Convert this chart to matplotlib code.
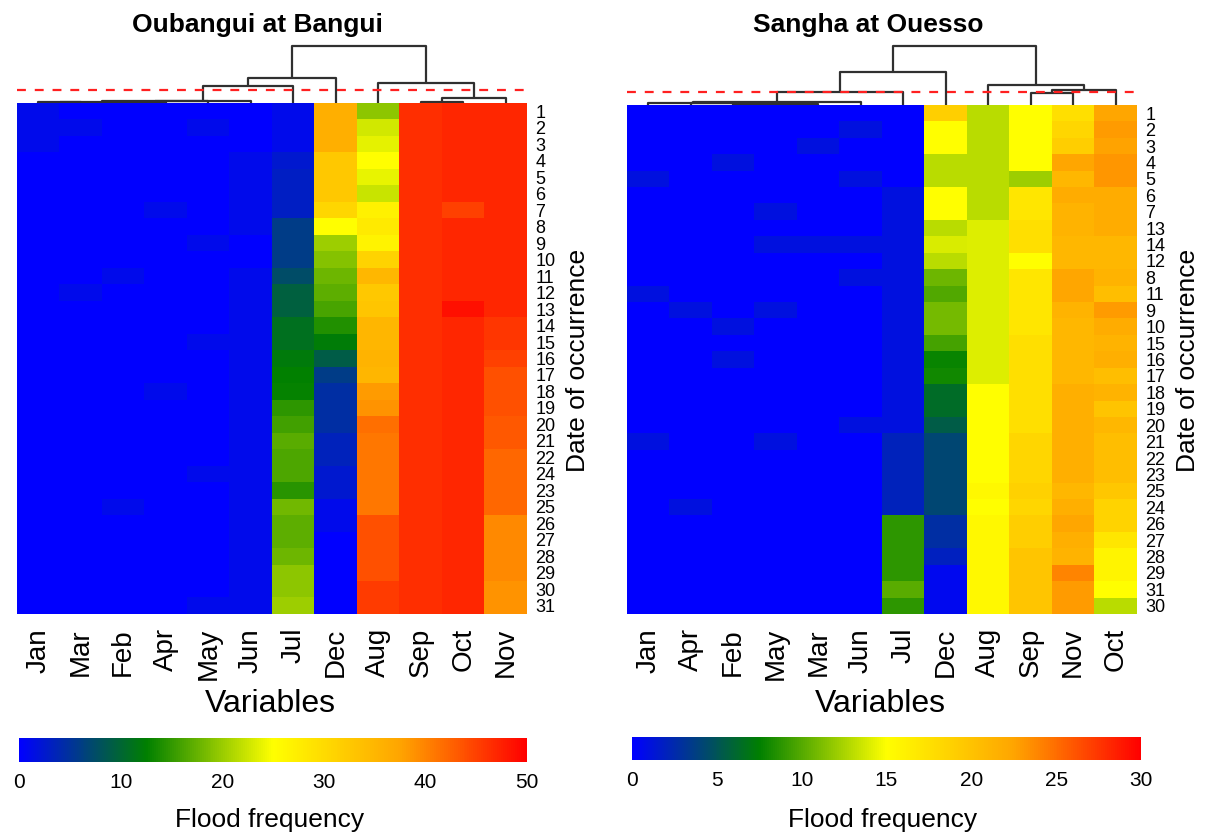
"""Flood frequency heatmaps with column dendrograms (Oubangui / Sangha)"""

import matplotlib
matplotlib.use("Agg")
import matplotlib.pyplot as plt
import numpy as np
from matplotlib.colors import LinearSegmentedColormap

plt.rcParams['font.family'] = ['Liberation Sans', 'DejaVu Sans']

# ---------------- data : Oubangui at Bangui ----------------
left_cols = ["Jan", "Mar", "Feb", "Apr", "May", "Jun", "Jul", "Dec", "Aug", "Sep", "Oct", "Nov"]
left_rows = [str(i) for i in range(1, 23)] + ["24", "23"] + [str(i) for i in range(25, 32)]

left_jan = [1, 1, 1] + [0] * 28
left_mar = [0, 1, 0, 0, 0, 0, 0, 0, 0, 0, 0, 1, 0, 0, 0, 0, 0, 0, 0, 0, 0, 0, 0, 0, 0, 0, 0, 0, 0, 0, 0]
left_feb = [0, 0, 0, 0, 0, 0, 0, 0, 0, 0, 1, 0, 0, 0, 0, 0, 0, 0, 0, 0, 0, 0, 0, 0, 1, 0, 0, 0, 0, 0, 0]
left_apr = [0, 0, 0, 0, 0, 0, 1, 0, 0, 0, 0, 0, 0, 0, 0, 0, 0, 1, 0, 0, 0, 0, 0, 0, 0, 0, 0, 0, 0, 0, 0]
left_may = [0, 1, 0, 0, 0, 0, 0, 0, 1, 0, 0, 0, 0, 0, 1, 0, 0, 0, 0, 0, 0, 0, 1, 0, 0, 0, 0, 0, 0, 0, 1]
left_jun = [0, 0, 0, 1, 1, 1, 1, 1, 0, 0, 1, 1, 1, 1, 1, 1, 1, 1, 1, 1, 1, 1, 1, 1, 1, 1, 1, 1, 1, 1, 1]
left_jul = [1, 1, 1, 2.5, 3, 3, 3, 6, 6, 6, 7.5, 9.5, 9.5, 11, 11, 12, 12.5, 12.8, 14.8, 15.8, 16.8,
            16.4, 16.4, 14.6, 18, 17, 17, 17.8, 19.4, 19.4, 20.3]
left_dec = [36, 36, 36, 32.5, 32.5, 32.5, 30.5, 25, 20.2, 19, 17.8, 17, 16.1, 14.1, 12.3, 9, 6, 4.5,
            4.5, 4.5, 3.5, 3.5, 2.5, 2.5, 1, 1, 0, 0, 0, 0, 0]
left_aug = [19.5, 22.8, 23.8, 25, 23.9, 22.4, 26.8, 27.9, 26.7, 31, 34.9, 32.6, 33, 35, 35, 35.5, 35,
            38.2, 38.8, 41.5, 40.9, 40.9, 40.9, 40.9, 40.9, 43.9, 43.9, 43.9, 43.9, 45.5, 45.5]
left_sep = [46.3] * 31
left_oct = [47, 47, 47, 47, 47, 47, 45.1, 47, 47, 47, 47, 47, 48.8, 47, 47, 47, 47, 47, 47, 47, 47,
            47, 47, 47, 47, 47, 47, 47, 47, 47, 47]
left_nov = [47] * 13 + [45.8, 45.8, 45, 43.9, 43.9, 43.9, 43.2, 43.2, 42, 42, 42, 42,
                        39.5, 39.5, 39.5, 39.5, 38.8, 38.8]

# column dendrogram (left child, right child, merge height)
left_tree = (((((("Jan", "Mar", 0.8), ("Feb", "Apr", 0.6), 1.2), "May", 1.6), "Jun", 2.0), "Jul", 17), "Dec", 25)
left_tree = (left_tree, ("Aug", (("Sep", "Oct", 1.0), "Nov", 5), 20), 57)
left_cut = 13

# ---------------- data : Sangha at Ouesso ----------------
right_cols = ["Jan", "Apr", "Feb", "May", "Mar", "Jun", "Jul", "Dec", "Aug", "Sep", "Nov", "Oct"]
right_rows = ["1", "2", "3", "4", "5", "6", "7", "13", "14", "12", "8", "11", "9", "10", "15", "16",
              "17", "18", "19", "20", "21", "22", "23", "25", "24", "26", "27", "28", "29", "31", "30"]

right_jan = [0, 0, 0, 0, 1, 0, 0, 0, 0, 0, 0, 1, 0, 0, 0, 0, 0, 0, 0, 0, 1, 0, 0, 0, 0, 0, 0, 0, 0, 0, 0]
right_apr = [0, 0, 0, 0, 0, 0, 0, 0, 0, 0, 0, 0, 1, 0, 0, 0, 0, 0, 0, 0, 0, 0, 0, 0, 1, 0, 0, 0, 0, 0, 0]
right_feb = [0, 0, 0, 1, 0, 0, 0, 0, 0, 0, 0, 0, 0, 1, 0, 1, 0, 0, 0, 0, 0, 0, 0, 0, 0, 0, 0, 0, 0, 0, 0]
right_may = [0, 0, 0, 0, 0, 0, 1, 0, 1, 0, 0, 0, 1, 0, 0, 0, 0, 0, 0, 0, 1, 0, 0, 0, 0, 0, 0, 0, 0, 0, 0]
right_mar = [0, 0, 1, 0, 0, 0, 0, 0, 1, 0, 0, 0, 0, 0, 0, 0, 0, 0, 0, 0, 0, 0, 0, 0, 0, 0, 0, 0, 0, 0, 0]
right_jun = [0, 1, 0, 0, 1, 0, 0, 0, 1, 0, 1, 0, 0, 0, 0, 0, 0, 0, 0, 1, 0, 0, 0, 0, 0, 0, 0, 0, 0, 0, 0]
right_jul = [0, 0, 0, 0, 0, 1, 1, 1, 1, 1, 1, 1, 1, 1, 1, 1, 1, 1, 1, 1, 2, 2, 2, 2, 2,
             8.9, 8.9, 8.9, 8.9, 10.1, 8.9]
right_dec = [18.9, 15, 15, 13, 13, 15, 15, 13, 13.9, 13, 10.7, 9.9, 11, 11, 9.6, 7.8, 8, 6.4, 6.4, 5.5,
             4.2, 4.2, 4.2, 4.2, 4.2, 2.8, 2.8, 1.9, 0.5, 0.5, 0.5]
right_aug = [13] * 7 + [14] * 10 + [15] * 6 + [15.5, 15] + [15.5] * 6
right_sep = [15, 15, 15, 15, 12.1, 17.1, 17.1, 17.6, 17.6, 15, 17.1, 17.1, 17.1, 17.1, 17.6, 17.6, 17.6,
             17.6, 17.6, 17.6, 18.3, 18.3, 18.3, 18.8, 18.3, 19.1, 19.1, 19.8, 19.8, 19.8, 19.8]
right_nov = [17.6, 18.3, 19.1, 22.3, 20.9, 21.9, 21.25, 21.25, 20.9, 20.9, 22.3, 22.3, 21.25, 20.9, 20.9,
             20.9, 20.9, 21.6, 21.6, 21.6, 21.6, 21.6, 21.6, 20.9, 21.6, 22.3, 21.6, 21.25, 24, 22.9, 22.9]
right_oct = [22.3, 22.9, 22.6, 23.1, 23.1, 21.9, 21.9, 21.9, 20.9, 20.9, 21.25, 20.3, 22.9, 21.9, 21.25,
             21.6, 20.3, 21.25, 19.9, 20.9, 20.3, 20.3, 20.3, 19.6, 18.6, 18.6, 17.1, 15.9, 15.9, 15, 13]

right_tree = ((("Jan", ("Apr", (("Feb", "May", 0.8), "Mar", 1.2), 1.6), 2.0), "Jun", 2.5), "Jul", 13)
right_tree = ((right_tree, "Dec", 33), ("Aug", (("Sep", "Nov", 12), "Oct", 15), 20), 59)
right_cut = 13

left_data = np.array([left_jan, left_mar, left_feb, left_apr, left_may, left_jun, left_jul,
                      left_dec, left_aug, left_sep, left_oct, left_nov]).T
right_data = np.array([right_jan, right_apr, right_feb, right_may, right_mar, right_jun, right_jul,
                       right_dec, right_aug, right_sep, right_nov, right_oct]).T

cmap = LinearSegmentedColormap.from_list("flood", ["#0000FF", "#008000", "#FFFF00", "#FFA500", "#FF0000"])

W, H = 1208, 838
fig = plt.figure(figsize=(W / 100, H / 100), dpi=100)


def px_axes(x0, y0, x1, y1):
    # axes from pixel box (top-left origin)
    return fig.add_axes([x0 / W, 1 - y1 / H, (x1 - x0) / W, (y1 - y0) / H])


def draw_tree(ax, node, order):
    if isinstance(node, str):
        return order.index(node), 0
    left, right, h = node
    xl, hl = draw_tree(ax, left, order)
    xr, hr = draw_tree(ax, right, order)
    ax.plot([xl, xl, xr, xr], [hl, h, h, hr], color="#303030", lw=1.6, solid_capstyle="butt")
    return (xl + xr) / 2, h


def panel(data, cols, rows, tree, cut, vmax, ticks, box, title, title_x, cbar_box, label_x):
    x0, y0, x1, y1 = box
    ax = px_axes(x0, y0, x1, y1)
    im = ax.imshow(data, cmap=cmap, vmin=0, vmax=vmax, aspect="auto", interpolation="nearest")
    for s in ax.spines.values():
        s.set_visible(False)
    ax.set_xticks(range(len(cols)))
    ax.set_xticklabels(cols, rotation=90, fontsize=20)
    ax.set_yticks(range(len(rows)))
    ax.set_yticklabels(rows, fontsize=13, ha="left")
    ax.yaxis.tick_right()
    ax.tick_params(axis="x", length=0, pad=10)
    ax.tick_params(axis="y", length=0, pad=6)

    # dendrogram above the heatmap
    top_h = tree[2]
    dax = px_axes(x0, 40, x1, y0)
    draw_tree(dax, tree, cols)
    dax.set_xlim(-0.5, len(cols) - 0.5)
    dax.set_ylim(0, top_h * (y0 - 40) / (y0 - 46))
    dax.axhline(cut, color="#FF2020", lw=1.6, ls=(0, (4, 4)))
    dax.axis("off")

    fig.text(title_x / W, 1 - 25 / H, title, fontsize=19, fontweight="bold", ha="center", va="center")
    fig.text(label_x / W, 1 - 704 / H, "Variables", fontsize=23, ha="center", va="center")
    fig.text((x1 + 51) / W, 1 - 360 / H, "Date of occurrence", fontsize=19, rotation=90,
             ha="center", va="center")

    cax = px_axes(*cbar_box)
    cb = fig.colorbar(im, cax=cax, orientation="horizontal", ticks=ticks)
    cb.outline.set_visible(False)
    cb.ax.tick_params(length=0, labelsize=15, pad=8)
    fig.text((cbar_box[0] + cbar_box[2]) / 2 / W - 0.003, 1 - 820 / H, "Flood frequency",
             fontsize=19, ha="center", va="center")


panel(left_data, left_cols, left_rows, left_tree, left_cut, 50, [0, 10, 20, 30, 40, 50],
      (17, 103, 527, 614), "Oubangui at Bangui", 257, (19, 738, 527, 762), 270)
panel(right_data, right_cols, right_rows, right_tree, right_cut, 30, [0, 5, 10, 15, 20, 25, 30],
      (627, 105, 1137, 614), "Sangha at Ouesso", 868, (632, 737, 1141, 760), 880)

fig.savefig("out.png", dpi=100)
